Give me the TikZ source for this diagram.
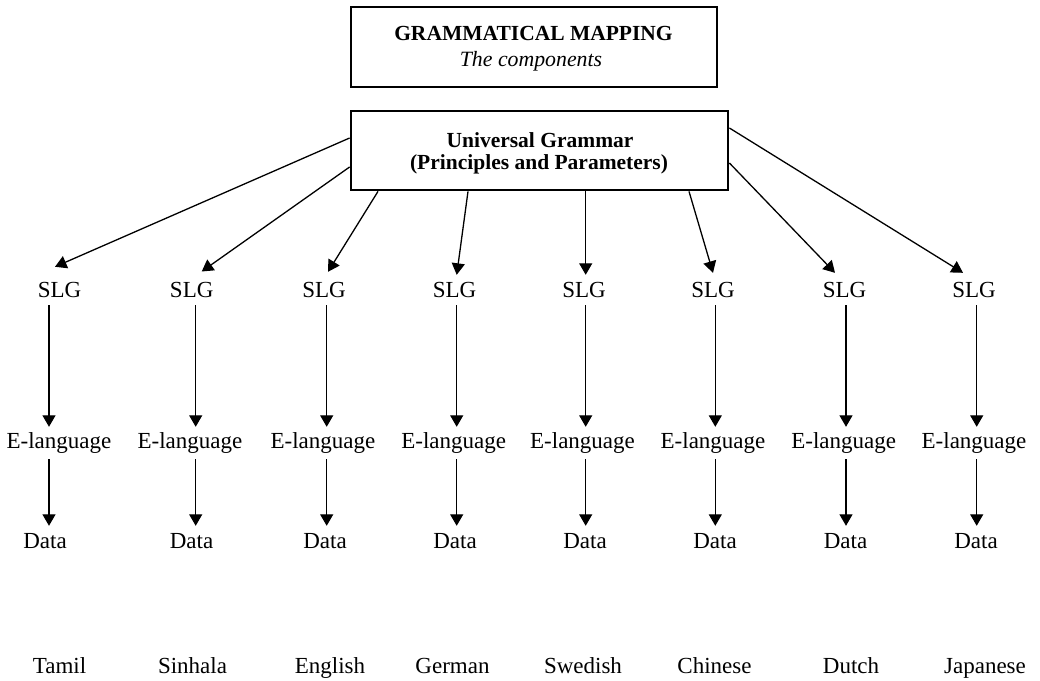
\documentclass[tikz,border=0pt]{standalone}
\usepackage{fontspec}
\setmainfont{Liberation Serif}
\usetikzlibrary{arrows.meta}
\begin{document}
\begin{tikzpicture}[x=1pt,y=-1pt,
  box/.style={draw, line width=2.8pt, inner sep=0},
  lbl/.style={inner sep=0, anchor=base, font=\fontsize{23}{27}\selectfont, text height=16pt, text depth=5pt},
  btxt/.style={inner sep=0, anchor=base, font=\fontsize{21.5}{26}\selectfont\bfseries},
  itxt/.style={inner sep=0, anchor=base, font=\fontsize{21.8}{26}\selectfont\itshape},
  arr/.style={line width=1.3pt, -{Triangle[width=13pt,length=11.5pt]}}]
\useasboundingbox (0,0) rectangle (1040,680);
% boxes
\node[box, minimum width=366pt, minimum height=80pt] (title) at (534,47) {};
\node[btxt] (titletext) at (533.5,40.7) {GRAMMATICAL MAPPING};
\node[itxt] (subtext) at (531,66.7) {The components};
\node[box, minimum width=377pt, minimum height=79pt] (ug) at (539.5,150.5) {};
\node[btxt] (ug1) at (540,147.7) {Universal Grammar};
\node[btxt] (ug2) at (539,169) {(Principles and Parameters)};
% columns
\foreach \i/\s/\e/\d/\l/\a/\n in {
  1/59.5/59/45/59.5/49/Tamil,
  2/191.7/190/191.5/192.5/195.7/Sinhala,
  3/324/323/325/330/326.7/English,
  4/454.5/453.7/455/452.5/456.7/German,
  5/584/582.5/585/583/585.7/Swedish,
  6/713/713/715/714.5/715.3/Chinese,
  7/844.5/843.7/845.5/851/846/Dutch,
  8/974/974/976/985/976.7/Japanese}{
  \node[lbl] (slg\i) at (\s,297) {SLG};
  \node[lbl] (el\i) at (\e,448) {E-language};
  \node[lbl] (data\i) at (\d,548) {Data};
  \node[lbl] (lang\i) at (\l,673) {\n};
  \draw[arr, shorten <=3pt, shorten >=5pt] ([xshift={(\a-\s)*1pt}]slg\i.south) -- ([xshift={(\a-\e)*1pt}]el\i.north);
  \draw[arr, shorten <=6pt, shorten >=6pt] ([xshift={(\a-\e)*1pt}]el\i.south) -- ([xshift={(\a-\d)*1pt}]data\i.north);
}
% UG to SLG
\draw[arr] ([yshift=12.5pt]ug.west) -- ([xshift=-4.5pt,yshift=14pt]slg1.north);
\draw[arr] ([yshift=-16.5pt]ug.west) -- ([xshift=10pt,yshift=9.3pt]slg2.north);
\draw[arr] ([xshift=-161.5pt]ug.south) -- ([xshift=4pt,yshift=9pt]slg3.north);
\draw[arr] ([xshift=-71.5pt]ug.south) -- ([xshift=2.2pt,yshift=6pt]slg4.north);
\draw[arr] ([xshift=46.2pt]ug.south) -- ([xshift=1.7pt,yshift=6pt]slg5.north);
\draw[arr] ([xshift=149.5pt]ug.south) -- ([xshift=0pt,yshift=8pt]slg6.north);
\draw[arr] ([yshift=-12.5pt]ug.east) -- ([xshift=-9.5pt,yshift=8pt]slg7.north);
\draw[arr] ([yshift=22.5pt]ug.east) -- ([xshift=-11pt,yshift=8pt]slg8.north);
\end{tikzpicture}
\end{document}
